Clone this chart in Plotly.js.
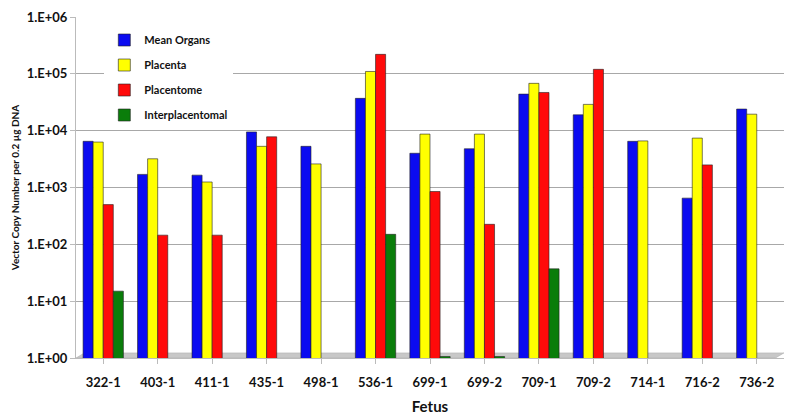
<!DOCTYPE html>
<html>
<head>
<meta charset="utf-8">
<script src="https://cdn.plot.ly/plotly-3.0.1.min.js"></script>
<style>
  html, body { margin: 0; padding: 0; background: #fff; }
  #chart { width: 800px; height: 417px; }
</style>
</head>
<body>
<div id="chart"></div>
<script>
// fetus IDs
var fetus = ["322-1", "403-1", "411-1", "435-1", "498-1", "536-1", "699-1",
             "699-2", "709-1", "709-2", "714-1", "716-2", "736-2"];

// vector copy number per 0.2 ug DNA
var meanOrgans = [6500, 1700, 1650, 9500, 5300, 37000, 4000, 4800, 44000, 19000, 6500, 650, 24000];
var placenta   = [6300, 3200, 1250, 5300, 2600, 110000, 8700, 8700, 68000, 29000, 6600, 7400, 19500];
var placentome = [500, 145, 145, 7800, null, 220000, 850, 225, 47000, 120000, null, 2500, null];
var interPlac  = [15, null, null, null, null, 150, 1.06, 1.06, 37, null, null, null, null];

var yTickVals = [1, 10, 100, 1000, 10000, 100000, 1000000];
var yTickText = ["1.E+00", "1.E+01", "1.E+02", "1.E+03", "1.E+04", "1.E+05", "1.E+06"];

var font = "Lato, Open Sans, sans-serif";

function barTrace(name, vals, color) {
  return {
    type: "bar",
    name: name,
    legendgroup: name,
    x: fetus,
    y: vals,
    marker: { color: color, line: { color: "#222", width: 0.6 } },
    hoverinfo: "x+y+name"
  };
}

var data = [
  barTrace("Mean Organs", meanOrgans, "#0b0bf0"),
  barTrace("Placenta", placenta, "#ffff00"),
  barTrace("Placentome", placentome, "#ff0a0a"),
  barTrace("Interplacentomal", interPlac, "#0a7d0a")
];

var layout = {
  width: 800,
  height: 417,
  margin: { l: 76, r: 16, t: 17, b: 59 },
  paper_bgcolor: "#fff",
  plot_bgcolor: "#fff",
  barmode: "group",
  bargap: 0.26,
  bargroupgap: 0,
  font: { family: font, color: "#111" },
  showlegend: true,
  legend: {
    x: 0.04, y: 0.975, xanchor: "left", yanchor: "top",
    bgcolor: "#fff",
    font: { family: font, size: 11, color: "#111", weight: "bold" },
    tracegroupgap: 6,
    itemwidth: 30
  },
  xaxis: {
    showgrid: false,
    showline: true,
    linecolor: "#bbb",
    ticks: "outside",
    ticklen: 5,
    tickcolor: "#bbb",
    ticklabelstandoff: 7,
    tickfont: { family: font, size: 13, color: "#111", weight: "bold" },
    title: { text: "Fetus", font: { family: font, size: 15, color: "#111", weight: "bold" }, standoff: 12 }
  },
  yaxis: {
    type: "log",
    range: [0, 6],
    tickvals: yTickVals,
    ticktext: yTickText,
    showgrid: true,
    gridcolor: "#a8a8a8",
    showline: true,
    linecolor: "#bbb",
    ticks: "outside",
    ticklen: 5,
    tickcolor: "#bbb",
    tickfont: { family: font, size: 13, color: "#111", weight: "bold" },
    title: { text: "Vector Copy Number per 0.2 µg DNA", font: { family: font, size: 10, color: "#111", weight: "bold" }, standoff: 5 }
  },
  shapes: [
    {
      type: "path",
      xref: "paper", yref: "paper",
      path: "M 0,0 L 0.012,0.015 L 1.0,0.015 L 0.988,0 Z",
      fillcolor: "#c8c8c8",
      line: { color: "#aaa", width: 0.5 },
      layer: "below"
    }
  ]
};

Plotly.newPlot("chart", data, layout, { displayModeBar: false, staticPlot: true });
</script>
</body>
</html>
